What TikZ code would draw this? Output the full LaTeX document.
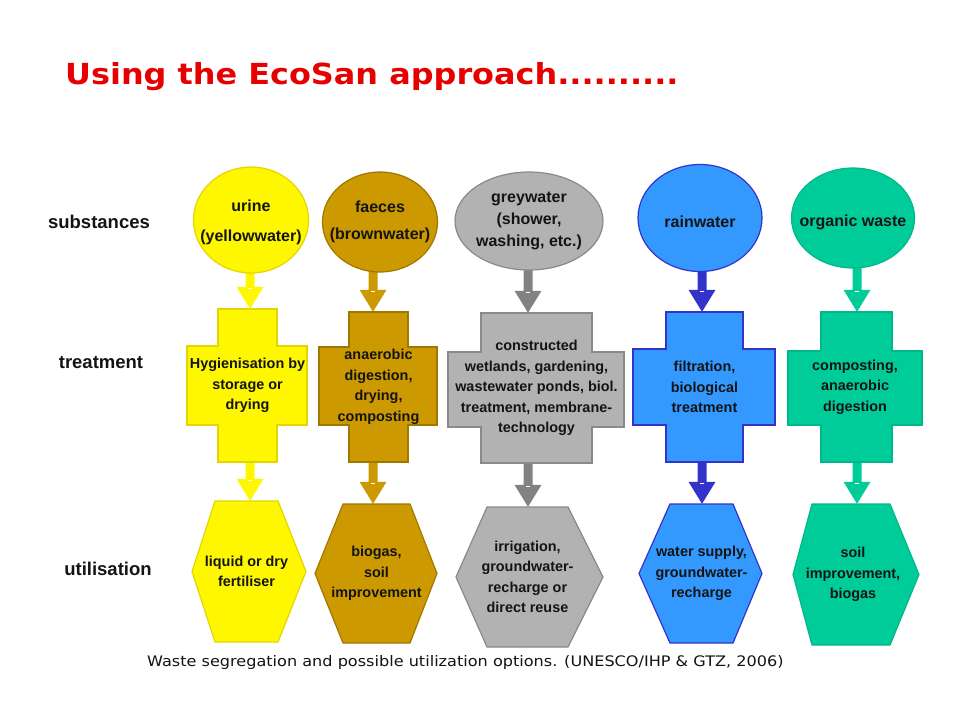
\documentclass[tikz,border=0pt]{standalone}
\usepackage{fontspec}
\usepackage{graphicx}
\setmainfont{Liberation Sans}
\newfontfamily\verdfont{DejaVu Sans}
\usetikzlibrary{shapes.geometric,calc}
\definecolor{ylwF}{HTML}{FFF700}
\definecolor{ylwD}{HTML}{E3D600}
\definecolor{brnF}{HTML}{CC9900}
\definecolor{brnD}{HTML}{A07800}
\definecolor{gryF}{HTML}{B2B2B2}
\definecolor{gryD}{HTML}{8A8A8A}
\definecolor{gryA}{HTML}{828282}
\definecolor{bluF}{HTML}{3399FF}
\definecolor{bluD}{HTML}{3333CC}
\definecolor{grnF}{HTML}{00CC99}
\definecolor{grnD}{HTML}{00B98A}
\definecolor{txtc}{HTML}{141414}
\definecolor{ttl}{HTML}{E60000}
\pgfdeclarelayer{bg}
\pgfsetlayers{bg,main}
% cross: style, xv1, xv2, yv1, yv2, xw1, xw2, yw1, yw2
\newcommand\xcross[9]{\draw[#1] (#2,#4) -- (#3,#4) -- (#3,#8) -- (#7,#8) -- (#7,#9) -- (#3,#9) -- (#3,#5) -- (#2,#5) -- (#2,#9) -- (#6,#9) -- (#6,#8) -- (#2,#8) -- cycle;}
% hexagon: style, xt1, xt2, ytop, ybot, xleft, xright
\newcommand\xhex[7]{\draw[#1] (#2,#4) -- (#3,#4) -- (#7,{(#4+#5)/2}) -- (#3,#5) -- (#2,#5) -- (#6,{(#4+#5)/2}) -- cycle;}
\tikzset{
  lbl/.style={font=\bfseries\fontsize{18.5}{20}\selectfont, text=txtc, inner sep=0pt},
  ntxt/.style={font=\bfseries\fontsize{14.4}{20.5}\selectfont, text=txtc, align=center, inner sep=0pt},
  ell/.style={ellipse, draw, line width=1.2pt, inner sep=0pt},
  etxt/.style={font=\bfseries\fontsize{16}{22}\selectfont, text=txtc, align=center, inner sep=0pt},
  shp/.style={line width=1.2pt, line join=miter},
  fatarrow/.style={to path={let \p1=(\tikztostart), \p2=(\tikztotarget) in
    (\x1-4.5pt,\y1+4pt) -- (\x1+4.5pt,\y1+4pt) -- (\x1+4.5pt,\y2+22pt) -- (\x1+13.5pt,\y2+22pt)
    -- (\x1,\y2) -- (\x1-13.5pt,\y2+22pt) -- (\x1-4.5pt,\y2+22pt) -- cycle}},
}
\begin{document}
\begin{tikzpicture}[x=1pt,y=-1pt]
\useasboundingbox (0,0) rectangle (960,720);
\begin{pgfonlayer}{bg}
\fill[white] (0,0) rectangle (960,720);
\end{pgfonlayer}

% title
\node[anchor=base west, inner sep=0pt, text=ttl, font=\verdfont\bfseries\fontsize{29}{31}\selectfont]
  (title) at (65,84) {\scalebox{1.1}[1]{Using the EcoSan approach..........}};

% row labels
\node[lbl] (lsub) at (99,222) {substances};
\node[lbl] (ltre) at (101,363) {treatment};
\node[lbl] (luti) at (108,569) {utilisation};

% substances
\node[ell, fill=ylwF, draw=ylwD, minimum width=115pt, minimum height=106pt] (c1) at (251,220) {};
\node[ell, fill=brnF, draw=brnD, minimum width=115pt, minimum height=100pt] (c2) at (380,222) {};
\node[ell, fill=gryF, draw=gryD, minimum width=148pt, minimum height=98pt] (c3) at (529,221) {};
\node[ell, fill=bluF, draw=bluD, minimum width=124pt, minimum height=107pt] (c4) at (700,218) {};
\node[ell, fill=grnF, draw=grnD, minimum width=123pt, minimum height=100pt] (c5) at (853,218) {};
\node[etxt, font=\bfseries\fontsize{16}{30}\selectfont] (c1t) at ([yshift=-2pt]c1.center) {urine\\(yellowwater)};
\node[etxt, font=\bfseries\fontsize{16}{27}\selectfont] (c2t) at (c2.center) {faeces\\(brownwater)};
\node[etxt] (c3t) at (c3.center) {greywater\\(shower,\\washing, etc.)};
\node[etxt] (c4t) at ([yshift=-4pt]c4.center) {rainwater};
\node[etxt] (c5t) at ([yshift=-4pt]c5.center) {organic waste};

% treatment crosses
\xcross{shp, fill=ylwF, draw=ylwD}{218}{277}{309}{462}{187}{307}{346}{425}
\xcross{shp, fill=brnF, draw=brnD}{349}{408}{312}{462}{319}{437}{347}{425}
\xcross{shp, fill=gryF, draw=gryD}{481}{592}{313}{463}{448}{624}{352}{427}
\xcross{shp, fill=bluF, draw=bluD}{666}{743}{312}{462}{633}{775}{349}{425}
\xcross{shp, fill=grnF, draw=grnD}{821}{892}{312}{462}{788}{922}{351}{425}
\node[ntxt, minimum width=59pt, minimum height=153pt] (t1) at (247.5,385.5) {Hygienisation by\\storage or\\drying};
\node[ntxt, minimum width=59pt, minimum height=150pt] (t2) at (378.5,387) {anaerobic\\digestion,\\drying,\\composting};
\node[ntxt, minimum width=111pt, minimum height=150pt] (t3) at (536.5,388)
  {constructed\\wetlands, gardening,\\wastewater ponds, biol.\\treatment, membrane-\\technology};
\node[ntxt, minimum width=77pt, minimum height=150pt] (t4) at (704.5,387) {filtration,\\biological\\treatment};
\node[ntxt, minimum width=71pt, minimum height=150pt] (t5) at (855,387) {composting,\\anaerobic\\digestion};

% utilisation hexagons
\xhex{shp, fill=ylwF, draw=ylwD}{215}{278}{501}{642}{192}{306}
\xhex{shp, fill=brnF, draw=brnD}{343}{410}{504}{643}{315}{437}
\xhex{shp, fill=gryF, draw=gryD}{487}{568}{507}{647}{456}{603}
\xhex{shp, fill=bluF, draw=bluD}{670}{733}{504}{643}{639}{762}
\xhex{shp, fill=grnF, draw=grnD}{812}{890}{504}{645}{793}{919}
\node[ntxt, minimum width=63pt, minimum height=141pt] (u1) at (246.5,571.5) {liquid or dry\\fertiliser};
\node[ntxt, minimum width=67pt, minimum height=139pt] (u2) at (376.5,573.5) {biogas,\\soil\\improvement};
\node[ntxt, minimum width=81pt, minimum height=140pt] (u3) at (527.5,577) {irrigation,\\groundwater-\\recharge or\\direct reuse};
\node[ntxt, minimum width=63pt, minimum height=139pt] (u4) at (701.5,573.5) {water supply,\\groundwater-\\recharge};
\node[ntxt, minimum width=78pt, minimum height=141pt] (u5) at (853,574.5) {soil\\improvement,\\biogas};

% arrow start points
\coordinate (a1) at ([xshift=-1pt]c1.south);
\coordinate (a2) at ([xshift=-7pt]c2.south);
\coordinate (a3) at ([xshift=-1pt]c3.south);
\coordinate (a4) at ([xshift=2pt]c4.south);
\coordinate (a5) at ([xshift=4pt]c5.south);

\begin{pgfonlayer}{bg}
\foreach \i/\ac in {1/ylwF,2/brnF,3/gryA,4/bluD,5/grnF}{
  \fill[\ac, fatarrow] (a\i) to (a\i |- t\i.north);
  \fill[\ac, fatarrow] (a\i |- t\i.south) to (a\i |- u\i.north);
  \fill[white] ($(a\i |- t\i.north)+(-2,-21)$) rectangle +(4,1.6);
  \fill[white] ($(a\i |- u\i.north)+(-2,-21)$) rectangle +(4,1.6);
}
\end{pgfonlayer}

% caption
\node[anchor=base west, inner sep=0pt, text=txtc, font=\verdfont\fontsize{14.5}{16}\selectfont]
  (cap) at (147,666) {\scalebox{1.11}[1]{Waste segregation and possible utilization options. (UNESCO/IHP \& GTZ, 2006)}};
\end{tikzpicture}
\end{document}
